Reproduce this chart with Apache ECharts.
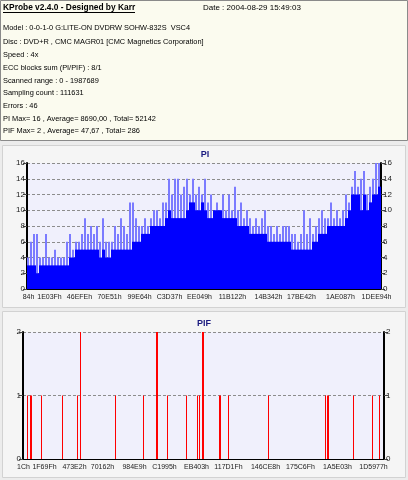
<!DOCTYPE html>
<html>
<head>
<meta charset="utf-8">
<script src="https://cdn.jsdelivr.net/npm/echarts@6/dist/echarts.min.js"></script>
<style>
html,body{margin:0;padding:0;background:#ececec;}
#main{width:408px;height:480px;}
</style>
</head>
<body>
<div id="main"></div>
<script>
var FONT = '"Liberation Sans", Arial, sans-serif';

var headerTitle = 'KProbe v2.4.0 - Designed by Karr';
var headerDate = 'Date : 2004-08-29 15:49:03';
var headerLines = [
    'Model : 0-0-1-0 G:LITE-ON DVDRW SOHW-832S  VSC4',
    'Disc : DVD+R , CMC MAGR01 [CMC Magnetics Corporation]',
    'Speed : 4x',
    'ECC blocks sum (PI/PIF) : 8/1',
    'Scanned range : 0 - 1987689',
    'Sampling count : 111631',
    'Errors : 46',
    'PI Max= 16 , Average= 8690,00 , Total= 52142',
    'PIF Max= 2 , Average= 47,67 , Total= 286'
];
var headerY = [28, 42, 54.5, 68, 80.5, 93, 106, 118.5, 131];

// PI: lowest level (dark) and highest level (light) per column group
var piBase = [3,3,3,2,3,3,3,3,3,3, 3,3,3,3,4,4,5,5,5,5,
              5,5,5,5,4,5,4,4,5,5, 5,5,5,5,5,6,6,6,7,7,
              7,8,8,8,8,8,9,10,9,9, 9,9,9,10,11,11,10,10,11,10,
              9,9,10,10,10,9,9,9,9,9, 8,8,8,8,7,7,7,7,7,7,
              6,6,6,6,6,6,6,6,5,5, 5,5,5,5,5,6,6,7,7,7,
              8,8,8,8,8,8,9,10,12,12, 12,10,12,10,11,12,12,13];
var piPeak = [4,6,7,7,4,4,7,4,4,5, 4,4,4,6,7,5,6,6,7,9,
              7,8,7,8,6,9,6,6,6,8, 7,9,8,7,11,11,9,8,8,9,
              8,9,10,10,9,11,11,14,12,14, 14,12,13,14,12,14,12,13,12,14,
              11,12,10,11,10,12,10,12,10,13, 10,11,9,10,9,8,9,8,9,10,
              8,8,7,8,7,8,8,8,7,7, 6,7,10,7,9,7,8,9,10,9,
              9,11,9,10,9,10,12,11,13,15, 13,14,15,12,13,14,16,16];
var piTicks = [[0,'84h'],[7,'1E03Fh'],[17,'46EFEh'],[27,'70E51h'],[37,'99E64h'],[47,'C3D37h'],
               [57,'EE049h'],[68,'11B122h'],[80,'14B342h'],[91,'17BE42h'],[104,'1AE087h'],[116,'1DEE94h']];

// PIF: [column, value]
var pifCount = 361;
var pifData = [[4,1],[7,1],[8,1],[18,1],[39,1],[54,1],[57,2],[92,1],[120,1],[133,2],[134,2],
               [144,1],[163,1],[174,1],[176,1],[179,2],[180,2],[196,1],[197,1],[205,1],[245,1],
               [302,1],[304,1],[305,1],[330,1],[349,1],[356,1]];
var pifTicks = [[0,'1Ch'],[21,'1F69Fh'],[51,'473E2h'],[79,'70162h'],[111,'984E9h'],[141,'C1995h'],
                [173,'EB403h'],[205,'117D1Fh'],[242,'146CE8h'],[277,'175C6Fh'],[314,'1A5E03h'],[350,'1D5977h']];

function makeCats(n, ticks){
    var c = [];
    for(var i = 0; i < n; i++){
        c.push('');
    }
    ticks.forEach(function(t){ c[t[0]] = t[1]; });
    return c;
}

var piCats = makeCats(piBase.length, piTicks);
var pifCats = makeCats(pifCount, pifTicks);

function xAxisOf(gridIndex, cats, tickEvery){
    return {
        type: 'category',
        gridIndex: gridIndex,
        data: cats,
        boundaryGap: true,
        axisLine: {lineStyle: {color: '#000', width: 1}},
        axisTick: {
            length: 3,
            lineStyle: {color: '#333'},
            interval: function(i){ return i % tickEvery == 0; }
        },
        axisLabel: {
            interval: function(i, v){ return v !== ''; },
            hideOverlap: false,
            color: '#222',
            fontSize: 7,
            fontFamily: FONT,
            margin: 5
        },
        splitLine: {show: false}
    };
}

function yAxisOf(gridIndex, pos, max, step, grid){
    return {
        type: 'value',
        gridIndex: gridIndex,
        position: pos,
        min: 0,
        max: max,
        interval: step,
        axisLine: {show: true, lineStyle: {color: '#000', width: 2}},
        axisTick: {show: true, length: 4, lineStyle: {color: '#444'}},
        axisLabel: {color: '#222', fontSize: 8, fontFamily: FONT, margin: 2},
        splitLine: {show: grid, lineStyle: {color: '#8c8c8c', type: [3, 2], width: 1}}
    };
}

var graphics = [
    {type: 'rect', z: -10, shape: {x: 0.5, y: 0.5, width: 407, height: 140},
        style: {fill: '#fbfbef', stroke: '#8a8a8a', lineWidth: 1}},
    {type: 'rect', z: -10, shape: {x: 2.5, y: 145.5, width: 403, height: 162},
        style: {fill: '#f5f5f5', stroke: '#d2d2d2', lineWidth: 1}},
    {type: 'rect', z: -10, shape: {x: 2.5, y: 311.5, width: 403, height: 166},
        style: {fill: '#f5f5f5', stroke: '#d2d2d2', lineWidth: 1}},
    {type: 'text', z: 10, style: {x: 3, y: 8, text: headerTitle, fill: '#000', fontSize: 8.4,
        fontWeight: 'bold', fontFamily: FONT, verticalAlign: 'middle'}},
    {type: 'line', z: 10, shape: {x1: 3, y1: 12.5, x2: 135, y2: 12.5}, style: {stroke: '#000', lineWidth: 1}},
    {type: 'text', z: 10, style: {x: 203, y: 8, text: headerDate, fill: '#000', fontSize: 8,
        fontFamily: FONT, verticalAlign: 'middle'}}
];
headerLines.forEach(function(t, i){
    graphics.push({type: 'text', z: 10, style: {x: 3, y: headerY[i], text: t, fill: '#000',
        fontSize: 7.4, fontFamily: FONT, verticalAlign: 'middle'}});
});

var option = {
    animation: false,
    backgroundColor: '#ececec',
    graphic: graphics,
    title: [
        {text: 'PI', left: 205, top: 150, padding: 0, textAlign: 'center',
            textStyle: {color: '#1a1a80', fontSize: 9, fontWeight: 'bold', fontFamily: FONT}},
        {text: 'PIF', left: 204, top: 319, padding: 0, textAlign: 'center',
            textStyle: {color: '#1a1a80', fontSize: 9, fontWeight: 'bold', fontFamily: FONT}}
    ],
    grid: [
        {left: 27, top: 163, width: 354, height: 126, show: true, backgroundColor: '#f0f0fc', borderWidth: 0},
        {left: 23, top: 332, width: 361, height: 127, show: true, backgroundColor: '#f0f0fc', borderWidth: 0}
    ],
    xAxis: [
        xAxisOf(0, piCats, 3),
        xAxisOf(1, pifCats, 10)
    ],
    yAxis: [
        yAxisOf(0, 'left', 16, 2, true),
        yAxisOf(0, 'right', 16, 2, false),
        yAxisOf(1, 'left', 2, 1, true),
        yAxisOf(1, 'right', 2, 1, false)
    ],
    series: [
        {
            name: 'PI max', type: 'bar', xAxisIndex: 0, yAxisIndex: 0,
            data: piPeak, barGap: '-100%', barWidth: 2,
            itemStyle: {color: '#7b7bff'}
        },
        {
            name: 'PI', type: 'bar', xAxisIndex: 0, yAxisIndex: 0,
            data: piBase, barGap: '-100%', barWidth: 3,
            itemStyle: {color: '#0000ff'}
        },
        {
            name: 'PIF', type: 'bar', xAxisIndex: 1, yAxisIndex: 2,
            data: pifData, barWidth: 1,
            itemStyle: {color: '#ff0000'}
        }
    ]
};

var myChart = echarts.init(document.getElementById('main'));
myChart.setOption(option);
</script>
</body>
</html>
